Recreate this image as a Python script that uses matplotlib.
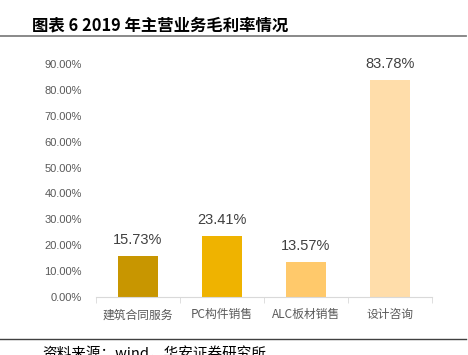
import matplotlib.pyplot as plt
from matplotlib.lines import Line2D

plt.rcParams['font.family'] = ['Noto Sans CJK SC', 'DejaVu Sans']

categories = ['建筑合同服务', 'PC构件销售', 'ALC板材销售', '设计咨询']
margins = [0.1573, 0.2341, 0.1357, 0.8378]
colors = ['#C89600', '#EFB300', '#FFC96B', '#FFDDAA']
yticks = [0.0, 0.1, 0.2, 0.3, 0.4, 0.5, 0.6, 0.7, 0.8, 0.9]

fig = plt.figure(figsize=(4.68, 3.55), dpi=100)
ax = fig.add_axes([0.205, 0.163, 0.718, 0.657])

x = range(len(categories))
ax.bar(x, margins, width=0.476, color=colors)
for i, v in zip(x, margins):
    ax.text(i, v + 0.035, f'{v*100:.2f}%', ha='center', va='bottom',
            fontsize=10.5, color='#404040', family='Liberation Sans', clip_on=False)

ax.set_xlim(-0.5, len(categories) - 0.5)
ax.set_ylim(0, 0.9)
ax.set_yticks(yticks)
ax.set_yticklabels([f'{t*100:.2f}%' for t in yticks], family='Liberation Sans',
                   fontsize=8, color='#595959')
ax.tick_params(axis='y', length=0, pad=10)

ax.set_xticks(x)
ax.set_xticklabels(categories, fontsize=8.5, color='#595959')
ax.set_xticks([-0.5, 0.5, 1.5, 2.5, 3.5], minor=True)
ax.tick_params(axis='x', which='major', length=0, pad=8)
ax.tick_params(axis='x', which='minor', length=4, color='#D9D9D9', direction='out')

for s in ['top', 'right', 'left']:
    ax.spines[s].set_visible(False)
ax.spines['bottom'].set_color('#D9D9D9')

fig.text(32/468, 1 - 25/355, '图表 6 2019 年主营业务毛利率情况', fontsize=11.8,
         fontweight='bold', va='center', ha='left', color='#000000')
fig.add_artist(Line2D([0, 466/468], [1 - 36/355, 1 - 36/355], color='#808080', lw=1.3))
fig.add_artist(Line2D([0, 466/468], [1 - 339/355, 1 - 339/355], color='#404040', lw=1.0))
fig.text(42/468, 1 - 346/355, '资料来源：wind，华安证券研究所', fontsize=10.5,
         va='top', ha='left', color='#000000')

fig.savefig('out.png', dpi=100)
